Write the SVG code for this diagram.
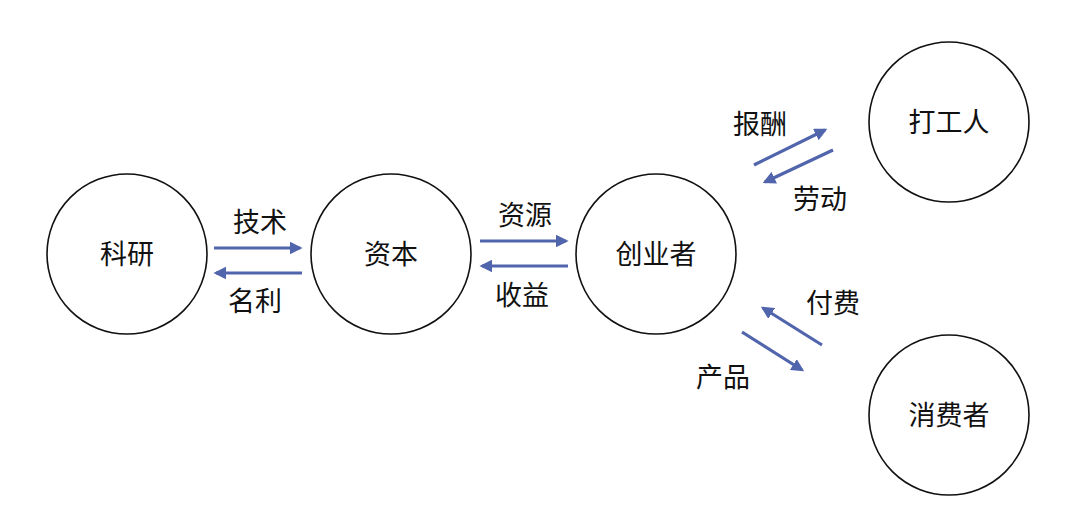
<svg xmlns="http://www.w3.org/2000/svg" width="1080" height="529" viewBox="0 0 1080 529">
<defs>
<style>
.n{fill:#fff;stroke:#111;stroke-width:1.6}
.t{font-family:"Noto Sans CJK SC","Liberation Sans",sans-serif;font-size:27px;fill:#111;text-anchor:middle;dominant-baseline:central}
.c{stroke:#5165ad;stroke-width:3.2;fill:none;marker-end:url(#ah)}
</style>
<marker id="ah" viewBox="0 0 10 10" refX="8" refY="5" markerWidth="4" markerHeight="4" orient="auto" markerUnits="strokeWidth">
<path d="M0,0 L10,5 L0,10 z" fill="#5165ad"/>
</marker>
</defs>
<rect width="1080" height="529" fill="#fff"/>
<g id="n-keyan"><circle class="n" cx="127" cy="254" r="80"/><text class="t" x="127" y="252">科研</text></g>
<g id="n-ziben"><circle class="n" cx="391" cy="254" r="80"/><text class="t" x="391" y="252">资本</text></g>
<g id="n-chuangye"><circle class="n" cx="656" cy="254" r="80"/><text class="t" x="656" y="252">创业者</text></g>
<g id="n-dagong"><circle class="n" cx="949" cy="122" r="80"/><text class="t" x="949" y="120">打工人</text></g>
<g id="n-xiaofei"><circle class="n" cx="949" cy="415" r="80"/><text class="t" x="949" y="413">消费者</text></g>
<g id="connectors">
<line class="c" x1="214" y1="248" x2="300" y2="248"/>
<line class="c" x1="302" y1="273" x2="216" y2="273"/>
<line class="c" x1="480" y1="241" x2="566" y2="241"/>
<line class="c" x1="568" y1="266" x2="482" y2="266"/>
<line class="c" x1="754" y1="165" x2="825" y2="130"/>
<line class="c" x1="833" y1="150" x2="765" y2="182"/>
<line class="c" x1="822" y1="345" x2="763" y2="308"/>
<line class="c" x1="742" y1="332" x2="802" y2="370"/>
</g>
<g id="labels">
<text class="t" x="260" y="220">技术</text>
<text class="t" x="255" y="299">名利</text>
<text class="t" x="525" y="213">资源</text>
<text class="t" x="522" y="293">收益</text>
<text class="t" x="760" y="122">报酬</text>
<text class="t" x="820" y="197">劳动</text>
<text class="t" x="833" y="301">付费</text>
<text class="t" x="723" y="375">产品</text>
</g>
</svg>
